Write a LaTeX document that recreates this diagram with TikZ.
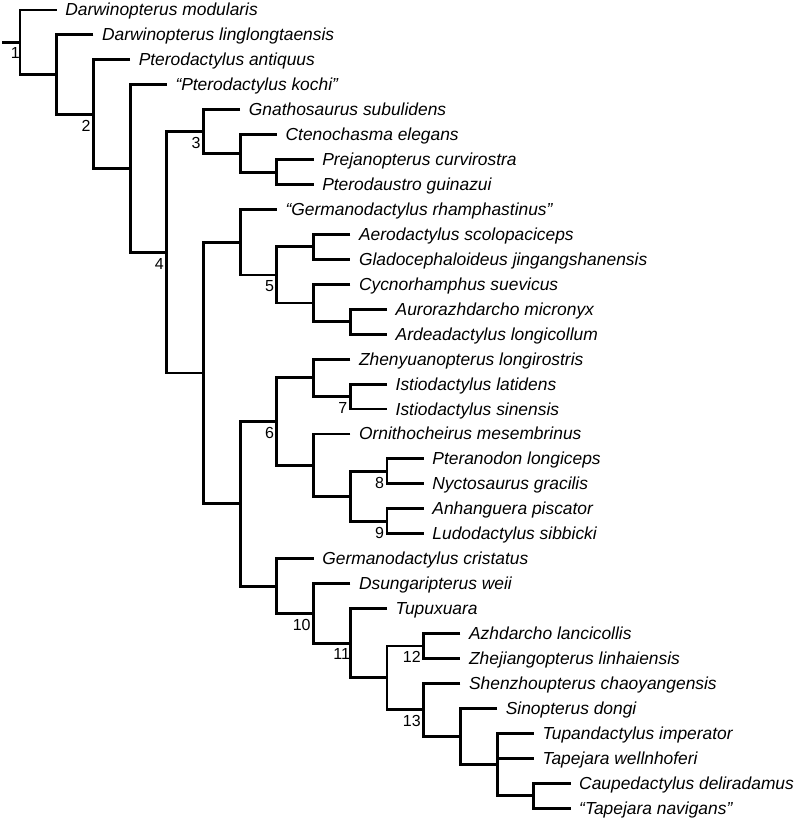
\documentclass[tikz,border=0pt]{standalone}
\usepackage{fontspec}
\setmainfont{Liberation Sans}
\tikzset{
  branch/.style={line width=2.9pt},
  taxon/.style={anchor=base west, inner sep=0pt, xshift=8.5pt, yshift=-6pt,
    font=\fontsize{17.4}{20}\selectfont\itshape},
  numlab/.style={anchor=north east, inner sep=0pt, xshift=-2.8pt, yshift=-5.5pt,
    font=\fontsize{16}{18}\selectfont},
}
\begin{document}
\begin{tikzpicture}[x=1pt,y=-1pt]
\useasboundingbox (0,0) rectangle (797,819);
% leaf end points
\coordinate (l1) at (56.7,10.00);
\coordinate (l2) at (93.4,34.94);
\coordinate (l3) at (130.1,59.88);
\coordinate (l4) at (166.8,84.82);
\coordinate (l5) at (240.2,109.76);
\coordinate (l6) at (276.9,134.70);
\coordinate (l7) at (313.6,159.64);
\coordinate (l8) at (313.6,184.58);
\coordinate (l9) at (276.9,209.52);
\coordinate (l10) at (350.3,234.46);
\coordinate (l11) at (350.3,259.40);
\coordinate (l12) at (350.3,284.34);
\coordinate (l13) at (387.0,309.28);
\coordinate (l14) at (387.0,334.22);
\coordinate (l15) at (350.3,359.16);
\coordinate (l16) at (387.0,384.10);
\coordinate (l17) at (387.0,409.04);
\coordinate (l18) at (350.3,433.98);
\coordinate (l19) at (423.7,458.92);
\coordinate (l20) at (423.7,483.86);
\coordinate (l21) at (423.7,508.80);
\coordinate (l22) at (423.7,533.74);
\coordinate (l23) at (313.6,558.68);
\coordinate (l24) at (350.3,583.62);
\coordinate (l25) at (387.0,608.56);
\coordinate (l26) at (460.4,633.50);
\coordinate (l27) at (460.4,658.44);
\coordinate (l28) at (460.4,683.38);
\coordinate (l29) at (497.1,708.32);
\coordinate (l30) at (533.8,733.26);
\coordinate (l31) at (533.8,758.20);
\coordinate (l32) at (570.5,783.14);
\coordinate (l33) at (570.5,808.08);
% internal nodes
\coordinate (root) at (2,42.29);
\coordinate (n1) at (20.0,42.29);
\coordinate (n1b) at (56.7,74.58);
\coordinate (n2) at (93.4,114.22);
\coordinate (nk) at (130.1,168.56);
\coordinate (n4) at (166.8,252.30);
\coordinate (n3) at (203.5,131.58);
\coordinate (n3b) at (240.2,153.405);
\coordinate (n3c) at (276.9,172.11);
\coordinate (n4b) at (203.5,373.02);
\coordinate (n5a) at (240.2,242.255);
\coordinate (n5) at (276.9,274.99);
\coordinate (n5b) at (313.6,246.93);
\coordinate (n5c) at (313.6,303.045);
\coordinate (n5d) at (350.3,321.75);
\coordinate (n610) at (240.2,503.78);
\coordinate (n6) at (276.9,421.51);
\coordinate (n6a) at (313.6,377.865);
\coordinate (n7) at (350.3,396.57);
\coordinate (n6b) at (313.6,465.155);
\coordinate (n89) at (350.3,496.33);
\coordinate (n8) at (387.0,471.39);
\coordinate (n9) at (387.0,521.27);
\coordinate (n10a) at (276.9,586.055);
\coordinate (n10) at (313.6,613.43);
\coordinate (n11) at (350.3,643.24);
\coordinate (n11b) at (387.0,677.925);
\coordinate (n12) at (423.7,645.97);
\coordinate (n13) at (423.7,709.88);
\coordinate (n13b) at (460.4,736.38);
\coordinate (n13c) at (497.1,764.435);
\coordinate (n13d) at (533.8,795.61);
% branches
\draw[branch] (root) -- (n1);
\draw[branch] (l1) -| (n1) |- (n1b);
\draw[branch] (l2) -| (n1b) |- (n2);
\draw[branch] (l3) -| (n2) |- (nk);
\draw[branch] (l4) -| (nk) |- (n4);
\draw[branch] (n3) -| (n4) |- (n4b);
\draw[branch] (l5) -| (n3) |- (n3b);
\draw[branch] (l6) -| (n3b) |- (n3c);
\draw[branch] (l7) -| (n3c) |- (l8);
\draw[branch] (n5a) -| (n4b) |- (n610);
\draw[branch] (l9) -| (n5a) |- (n5);
\draw[branch] (n5b) -| (n5) |- (n5c);
\draw[branch] (l10) -| (n5b) |- (l11);
\draw[branch] (l12) -| (n5c) |- (n5d);
\draw[branch] (l13) -| (n5d) |- (l14);
\draw[branch] (n6) -| (n610) |- (n10a);
\draw[branch] (n6a) -| (n6) |- (n6b);
\draw[branch] (l15) -| (n6a) |- (n7);
\draw[branch] (l16) -| (n7) |- (l17);
\draw[branch] (l18) -| (n6b) |- (n89);
\draw[branch] (n8) -| (n89) |- (n9);
\draw[branch] (l19) -| (n8) |- (l20);
\draw[branch] (l21) -| (n9) |- (l22);
\draw[branch] (l23) -| (n10a) |- (n10);
\draw[branch] (l24) -| (n10) |- (n11);
\draw[branch] (l25) -| (n11) |- (n11b);
\draw[branch] (n12) -| (n11b) |- (n13);
\draw[branch] (l26) -| (n12) |- (l27);
\draw[branch] (l28) -| (n13) |- (n13b);
\draw[branch] (l29) -| (n13b) |- (n13c);
\draw[branch] (l30) -| (n13c) |- (n13d);
\draw[branch] (n13c |- l31) -- (l31);
\draw[branch] (l32) -| (n13d) |- (l33);
% taxa
\node[taxon] (t1) at (l1) {Darwinopterus modularis};
\node[taxon] (t2) at (l2) {Darwinopterus linglongtaensis};
\node[taxon] (t3) at (l3) {Pterodactylus antiquus};
\node[taxon] (t4) at (l4) {“Pterodactylus kochi”};
\node[taxon] (t5) at (l5) {Gnathosaurus subulidens};
\node[taxon] (t6) at (l6) {Ctenochasma elegans};
\node[taxon] (t7) at (l7) {Prejanopterus curvirostra};
\node[taxon] (t8) at (l8) {Pterodaustro guinazui};
\node[taxon] (t9) at (l9) {“Germanodactylus rhamphastinus”};
\node[taxon] (t10) at (l10) {Aerodactylus scolopaciceps};
\node[taxon] (t11) at (l11) {Gladocephaloideus jingangshanensis};
\node[taxon] (t12) at (l12) {Cycnorhamphus suevicus};
\node[taxon] (t13) at (l13) {Aurorazhdarcho micronyx};
\node[taxon] (t14) at (l14) {Ardeadactylus longicollum};
\node[taxon] (t15) at (l15) {Zhenyuanopterus longirostris};
\node[taxon] (t16) at (l16) {Istiodactylus latidens};
\node[taxon] (t17) at (l17) {Istiodactylus sinensis};
\node[taxon] (t18) at (l18) {Ornithocheirus mesembrinus};
\node[taxon] (t19) at (l19) {Pteranodon longiceps};
\node[taxon] (t20) at (l20) {Nyctosaurus gracilis};
\node[taxon] (t21) at (l21) {Anhanguera piscator};
\node[taxon] (t22) at (l22) {Ludodactylus sibbicki};
\node[taxon] (t23) at (l23) {Germanodactylus cristatus};
\node[taxon] (t24) at (l24) {Dsungaripterus weii};
\node[taxon] (t25) at (l25) {Tupuxuara};
\node[taxon] (t26) at (l26) {Azhdarcho lancicollis};
\node[taxon] (t27) at (l27) {Zhejiangopterus linhaiensis};
\node[taxon] (t28) at (l28) {Shenzhoupterus chaoyangensis};
\node[taxon] (t29) at (l29) {Sinopterus dongi};
\node[taxon] (t30) at (l30) {Tupandactylus imperator};
\node[taxon] (t31) at (l31) {Tapejara wellnhoferi};
\node[taxon] (t32) at (l32) {Caupedactylus deliradamus};
\node[taxon] (t33) at (l33) {“Tapejara navigans”};
% node numbers
\node[numlab, xshift=2.8pt] (k1) at (n1) {1};
\node[numlab] (k2) at (n2) {2};
\node[numlab] (k3) at (n3) {3};
\node[numlab] (k4) at (n4) {4};
\node[numlab] (k5) at (n5) {5};
\node[numlab] (k6) at (n6) {6};
\node[numlab] (k7) at (n7) {7};
\node[numlab] (k8) at (n8) {8};
\node[numlab] (k9) at (n9) {9};
\node[numlab] (k10) at (n10) {10};
\node[numlab, xshift=2.8pt] (k11) at (n11) {11};
\node[numlab] (k12) at (n12) {12};
\node[numlab] (k13) at (n13) {13};
\end{tikzpicture}
\end{document}
